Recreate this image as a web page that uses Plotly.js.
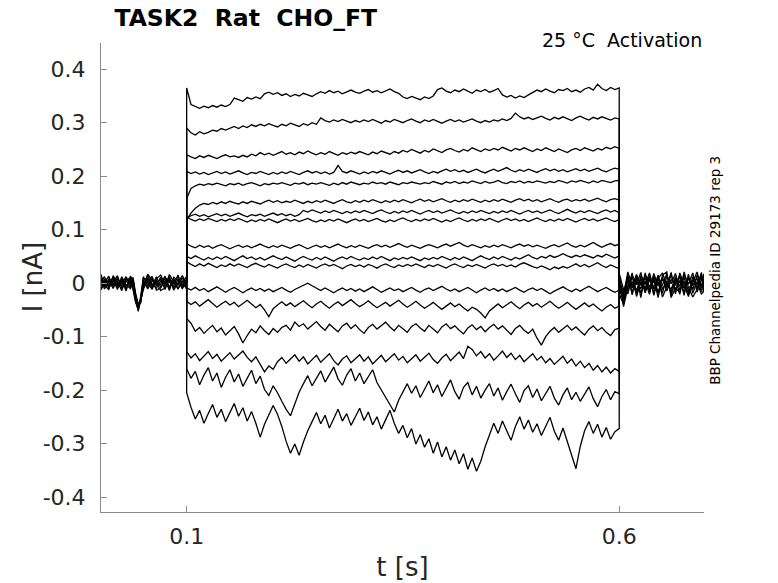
<!DOCTYPE html>
<html>
<head>
<meta charset="utf-8">
<script src="https://cdn.plot.ly/plotly-3.0.1.min.js"></script>
<style>
  html, body { margin: 0; padding: 0; background: #fff; }
  #chart { width: 778px; height: 583px; }
</style>
</head>
<body>
<div id="chart"></div>
<script>
// Step protocol timing [s]
const STEP_ON = 0.1;
const STEP_OFF = 0.6;
const holdingCurrent = 0;

// Sample times during the voltage step [s]
const stepTimes = [
  0.1, 0.105, 0.11, 0.115, 0.12, 0.125, 0.13, 0.135, 0.14, 0.145,
  0.15, 0.155, 0.16, 0.165, 0.17, 0.175, 0.18, 0.185, 0.19, 0.195,
  0.2, 0.205, 0.21, 0.215, 0.22, 0.225, 0.23, 0.235, 0.24, 0.245,
  0.25, 0.255, 0.26, 0.265, 0.27, 0.275, 0.28, 0.285, 0.29, 0.295,
  0.3, 0.305, 0.31, 0.315, 0.32, 0.325, 0.33, 0.335, 0.34, 0.345,
  0.35, 0.355, 0.36, 0.365, 0.37, 0.375, 0.38, 0.385, 0.39, 0.395,
  0.4, 0.405, 0.41, 0.415, 0.42, 0.425, 0.43, 0.435, 0.44, 0.445,
  0.45, 0.455, 0.46, 0.465, 0.47, 0.475, 0.48, 0.485, 0.49, 0.495,
  0.5, 0.505, 0.51, 0.515, 0.52, 0.525, 0.53, 0.535, 0.54, 0.545,
  0.55, 0.555, 0.56, 0.565, 0.57, 0.575, 0.58, 0.585, 0.59, 0.595,
  0.6
];

// Current during the step, one array per sweep [nA]
const sweep01 = [
  0.365, 0.334, 0.330, 0.327, 0.331, 0.328, 0.332, 0.329, 0.333, 0.330, 0.334,
  0.346, 0.343, 0.340, 0.347, 0.344, 0.348, 0.345, 0.354, 0.357, 0.353,
  0.356, 0.351, 0.354, 0.349, 0.353, 0.350, 0.355, 0.352, 0.349, 0.354,
  0.358, 0.355, 0.360, 0.356, 0.359, 0.354, 0.358, 0.361, 0.357, 0.355,
  0.359, 0.362, 0.357, 0.360, 0.356, 0.359, 0.363, 0.358, 0.355, 0.348,
  0.345, 0.349, 0.346, 0.343, 0.348, 0.345, 0.350, 0.362, 0.365, 0.359,
  0.356, 0.361, 0.358, 0.363, 0.359, 0.355, 0.361, 0.358, 0.362, 0.357,
  0.360, 0.364, 0.352, 0.348, 0.351, 0.346, 0.350, 0.347, 0.352, 0.356,
  0.361, 0.358, 0.363, 0.359, 0.356, 0.362, 0.360, 0.364, 0.358, 0.361,
  0.357, 0.363, 0.366, 0.361, 0.372, 0.364, 0.360, 0.366, 0.362, 0.365
];
const sweep02 = [
  0.290, 0.281, 0.277, 0.283, 0.279, 0.282, 0.286, 0.284, 0.289, 0.286, 0.290,
  0.293, 0.289, 0.294, 0.291, 0.296, 0.293, 0.297, 0.294, 0.298, 0.295,
  0.292, 0.297, 0.294, 0.299, 0.296, 0.293, 0.298, 0.295, 0.300, 0.297,
  0.309, 0.304, 0.301, 0.305, 0.302, 0.306, 0.303, 0.300, 0.304, 0.301,
  0.305, 0.302, 0.306, 0.303, 0.299, 0.304, 0.301, 0.306, 0.303, 0.300,
  0.304, 0.307, 0.303, 0.300, 0.305, 0.302, 0.306, 0.303, 0.299, 0.303,
  0.306, 0.302, 0.305, 0.301, 0.304, 0.307, 0.303, 0.300, 0.304, 0.301,
  0.305, 0.303, 0.307, 0.304, 0.308, 0.318, 0.311, 0.307, 0.310, 0.306,
  0.309, 0.312, 0.308, 0.305, 0.310, 0.307, 0.311, 0.308, 0.304, 0.309,
  0.312, 0.308, 0.305, 0.310, 0.307, 0.311, 0.308, 0.305, 0.309, 0.307
];
const sweep03 = [
  0.240, 0.236, 0.233, 0.238, 0.235, 0.239, 0.236, 0.233, 0.237, 0.240, 0.236,
  0.238, 0.235, 0.239, 0.236, 0.241, 0.238, 0.244, 0.240, 0.243, 0.239,
  0.242, 0.246, 0.241, 0.244, 0.240, 0.245, 0.242, 0.247, 0.243, 0.240,
  0.244, 0.241, 0.246, 0.243, 0.239, 0.244, 0.241, 0.245, 0.242, 0.246,
  0.243, 0.240, 0.245, 0.242, 0.247, 0.244, 0.241, 0.246, 0.243, 0.248,
  0.245, 0.250, 0.246, 0.243, 0.248, 0.245, 0.251, 0.247, 0.244, 0.249,
  0.252, 0.248, 0.245, 0.250, 0.247, 0.253, 0.249, 0.246, 0.251, 0.248,
  0.252, 0.249, 0.254, 0.250, 0.247, 0.252, 0.249, 0.253, 0.250, 0.246,
  0.251, 0.248, 0.253, 0.249, 0.246, 0.251, 0.248, 0.244, 0.249, 0.252,
  0.248, 0.253, 0.250, 0.247, 0.252, 0.249, 0.254, 0.251, 0.255, 0.252
];
const sweep04 = [
  0.209, 0.205, 0.208, 0.204, 0.207, 0.203, 0.206, 0.209, 0.205, 0.208, 0.204,
  0.207, 0.210, 0.206, 0.203, 0.207, 0.205, 0.209, 0.206, 0.203, 0.207,
  0.204, 0.208, 0.205, 0.209, 0.206, 0.203, 0.207, 0.210, 0.206, 0.209,
  0.205, 0.208, 0.204, 0.207, 0.220, 0.209, 0.206, 0.210, 0.207, 0.204,
  0.208, 0.205, 0.209, 0.206, 0.210, 0.207, 0.204, 0.208, 0.211, 0.207,
  0.210, 0.206, 0.209, 0.212, 0.208, 0.205, 0.209, 0.206, 0.210, 0.213,
  0.209, 0.212, 0.208, 0.211, 0.207, 0.210, 0.213, 0.209, 0.206, 0.210,
  0.213, 0.209, 0.212, 0.216, 0.211, 0.208, 0.212, 0.209, 0.213, 0.210,
  0.207, 0.211, 0.214, 0.210, 0.213, 0.209, 0.212, 0.208, 0.211, 0.214,
  0.210, 0.213, 0.209, 0.212, 0.215, 0.211, 0.208, 0.212, 0.215, 0.213
];
const sweep05 = [
  0.158, 0.177, 0.182, 0.185, 0.183, 0.186, 0.184, 0.187, 0.185, 0.182, 0.186,
  0.184, 0.187, 0.183, 0.186, 0.188, 0.185, 0.182, 0.186, 0.184, 0.187,
  0.185, 0.188, 0.186, 0.183, 0.187, 0.185, 0.188, 0.184, 0.187, 0.185,
  0.188, 0.186, 0.183, 0.187, 0.184, 0.188, 0.185, 0.189, 0.186, 0.184,
  0.187, 0.185, 0.189, 0.186, 0.188, 0.185, 0.189, 0.187, 0.184, 0.188,
  0.186, 0.189, 0.187, 0.185, 0.188, 0.186, 0.190, 0.187, 0.185, 0.189,
  0.187, 0.190, 0.186, 0.189, 0.187, 0.191, 0.188, 0.186, 0.190, 0.187,
  0.189, 0.192, 0.188, 0.186, 0.190, 0.188, 0.191, 0.187, 0.190, 0.188,
  0.191, 0.189, 0.187, 0.190, 0.188, 0.192, 0.189, 0.187, 0.191, 0.189,
  0.192, 0.189, 0.187, 0.191, 0.188, 0.192, 0.190, 0.188, 0.191, 0.192
];
const sweep06 = [
  0.118, 0.131, 0.140, 0.146, 0.149, 0.147, 0.151, 0.148, 0.152, 0.149, 0.153,
  0.150, 0.148, 0.152, 0.149, 0.153, 0.151, 0.148, 0.152, 0.155, 0.151,
  0.154, 0.150, 0.153, 0.151, 0.155, 0.152, 0.149, 0.153, 0.150, 0.154,
  0.151, 0.155, 0.152, 0.149, 0.153, 0.156, 0.152, 0.150, 0.154, 0.151,
  0.155, 0.152, 0.156, 0.153, 0.150, 0.154, 0.151, 0.155, 0.152, 0.156,
  0.153, 0.150, 0.154, 0.157, 0.153, 0.156, 0.152, 0.155, 0.158, 0.154,
  0.151, 0.155, 0.152, 0.156, 0.153, 0.157, 0.154, 0.151, 0.155, 0.152,
  0.156, 0.153, 0.157, 0.154, 0.151, 0.155, 0.158, 0.154, 0.157, 0.153,
  0.156, 0.152, 0.155, 0.158, 0.154, 0.151, 0.155, 0.157, 0.153, 0.156,
  0.154, 0.157, 0.153, 0.156, 0.159, 0.155, 0.152, 0.156, 0.158, 0.155
];
const sweep07 = [
  0.122, 0.126, 0.129, 0.125, 0.128, 0.124, 0.127, 0.130, 0.126, 0.129, 0.125,
  0.128, 0.131, 0.127, 0.124, 0.128, 0.126, 0.129, 0.125, 0.128, 0.131,
  0.127, 0.130, 0.126, 0.129, 0.125, 0.128, 0.136, 0.133, 0.137, 0.134,
  0.131, 0.135, 0.132, 0.136, 0.133, 0.130, 0.134, 0.131, 0.135, 0.132,
  0.136, 0.133, 0.130, 0.134, 0.137, 0.133, 0.130, 0.134, 0.131, 0.135,
  0.132, 0.136, 0.133, 0.129, 0.133, 0.136, 0.132, 0.135, 0.131, 0.134,
  0.137, 0.133, 0.130, 0.134, 0.131, 0.135, 0.132, 0.136, 0.133, 0.130,
  0.134, 0.131, 0.135, 0.132, 0.136, 0.133, 0.129, 0.133, 0.136, 0.132,
  0.135, 0.131, 0.134, 0.137, 0.133, 0.130, 0.134, 0.138, 0.134, 0.131,
  0.135, 0.132, 0.136, 0.133, 0.130, 0.134, 0.137, 0.133, 0.136, 0.131
];
const sweep08 = [
  0.124, 0.119, 0.116, 0.120, 0.117, 0.121, 0.118, 0.115, 0.119, 0.116, 0.120,
  0.117, 0.121, 0.118, 0.114, 0.118, 0.115, 0.119, 0.116, 0.120, 0.117,
  0.113, 0.117, 0.120, 0.116, 0.119, 0.115, 0.118, 0.121, 0.117, 0.114,
  0.118, 0.115, 0.119, 0.116, 0.120, 0.117, 0.113, 0.117, 0.120, 0.116,
  0.119, 0.115, 0.118, 0.121, 0.117, 0.114, 0.118, 0.115, 0.119, 0.122,
  0.118, 0.115, 0.119, 0.116, 0.120, 0.117, 0.121, 0.118, 0.114, 0.118,
  0.115, 0.119, 0.122, 0.118, 0.115, 0.119, 0.116, 0.120, 0.117, 0.121,
  0.118, 0.114, 0.118, 0.121, 0.117, 0.120, 0.116, 0.119, 0.115, 0.119,
  0.122, 0.118, 0.115, 0.119, 0.116, 0.120, 0.117, 0.121, 0.118, 0.114,
  0.118, 0.121, 0.117, 0.120, 0.116, 0.119, 0.122, 0.118, 0.115, 0.119
];
const sweep09 = [
  0.074, 0.069, 0.066, 0.071, 0.067, 0.070, 0.065, 0.069, 0.072, 0.068, 0.064,
  0.068, 0.071, 0.067, 0.070, 0.066, 0.069, 0.073, 0.069, 0.066, 0.070,
  0.067, 0.071, 0.068, 0.065, 0.069, 0.072, 0.068, 0.064, 0.068, 0.071,
  0.067, 0.070, 0.066, 0.069, 0.073, 0.069, 0.066, 0.070, 0.067, 0.071,
  0.068, 0.065, 0.069, 0.072, 0.068, 0.071, 0.067, 0.070, 0.074, 0.070,
  0.067, 0.071, 0.068, 0.065, 0.069, 0.072, 0.069, 0.066, 0.070, 0.073,
  0.069, 0.072, 0.076, 0.071, 0.068, 0.072, 0.069, 0.066, 0.070, 0.067,
  0.071, 0.068, 0.072, 0.069, 0.066, 0.070, 0.073, 0.069, 0.072, 0.068,
  0.071, 0.068, 0.065, 0.069, 0.072, 0.068, 0.071, 0.075, 0.070, 0.067,
  0.071, 0.068, 0.072, 0.076, 0.071, 0.067, 0.071, 0.074, 0.070, 0.073
];
const sweep10 = [
  0.050, 0.046, 0.051, 0.047, 0.043, 0.048, 0.044, 0.049, 0.045, 0.050, 0.046,
  0.042, 0.047, 0.051, 0.046, 0.049, 0.044, 0.048, 0.043, 0.047, 0.051,
  0.047, 0.044, 0.049, 0.045, 0.041, 0.046, 0.050, 0.046, 0.043, 0.048,
  0.044, 0.049, 0.045, 0.041, 0.046, 0.049, 0.045, 0.050, 0.046, 0.043,
  0.047, 0.044, 0.049, 0.045, 0.050, 0.046, 0.042, 0.047, 0.044, 0.048,
  0.045, 0.049, 0.046, 0.042, 0.047, 0.044, 0.048, 0.045, 0.050, 0.046,
  0.043, 0.048, 0.044, 0.049, 0.046, 0.042, 0.047, 0.051, 0.047, 0.044,
  0.049, 0.045, 0.050, 0.047, 0.043, 0.048, 0.045, 0.049, 0.053, 0.048,
  0.045, 0.050, 0.047, 0.052, 0.048, 0.051, 0.055, 0.051, 0.048, 0.052,
  0.049, 0.053, 0.050, 0.047, 0.052, 0.049, 0.054, 0.050, 0.047, 0.051
];
const sweep11 = [
  0.040, 0.035, 0.031, 0.036, 0.032, 0.037, 0.033, 0.029, 0.034, 0.031, 0.036,
  0.032, 0.036, 0.033, 0.029, 0.034, 0.037, 0.033, 0.030, 0.035, 0.031,
  0.028, 0.033, 0.036, 0.032, 0.029, 0.034, 0.030, 0.035, 0.032, 0.028,
  0.033, 0.036, 0.032, 0.035, 0.031, 0.027, 0.032, 0.035, 0.031, 0.034,
  0.030, 0.035, 0.032, 0.028, 0.033, 0.036, 0.032, 0.029, 0.034, 0.031,
  0.035, 0.032, 0.036, 0.033, 0.029, 0.034, 0.031, 0.035, 0.032, 0.028,
  0.033, 0.036, 0.032, 0.029, 0.034, 0.031, 0.035, 0.032, 0.028, 0.033,
  0.036, 0.032, 0.035, 0.031, 0.034, 0.030, 0.035, 0.038, 0.034, 0.031,
  0.028, 0.032, 0.029, 0.025, 0.030, 0.027, 0.031, 0.028, 0.032, 0.036,
  0.031, 0.035, 0.030, 0.034, 0.038, 0.033, 0.029, 0.034, 0.030, 0.027
];
const sweep12 = [
  -0.009, -0.013, -0.008, -0.014, -0.010, -0.016, -0.011, -0.007, -0.012, -0.017, -0.012,
  -0.008, -0.013, -0.018, -0.013, -0.009, -0.014, -0.010, -0.015, -0.011, -0.016,
  -0.012, -0.008, -0.013, -0.017, -0.012, -0.008, -0.004, 0.000, -0.005, -0.010,
  -0.014, -0.009, -0.013, -0.018, -0.013, -0.009, -0.014, -0.010, -0.015, -0.011,
  -0.016, -0.012, -0.007, -0.012, -0.017, -0.013, -0.009, -0.014, -0.011, -0.016,
  -0.012, -0.008, -0.013, -0.017, -0.012, -0.009, -0.014, -0.010, -0.006, -0.011,
  -0.015, -0.011, -0.016, -0.012, -0.008, -0.013, -0.018, -0.013, -0.009, -0.014,
  -0.010, -0.015, -0.011, -0.016, -0.012, -0.008, -0.013, -0.017, -0.012, -0.009,
  -0.014, -0.010, -0.015, -0.020, -0.015, -0.011, -0.007, -0.012, -0.016, -0.011,
  -0.015, -0.010, -0.006, -0.011, -0.016, -0.012, -0.008, -0.013, -0.017, -0.013
];
const sweep13 = [
  -0.034, -0.040, -0.035, -0.043, -0.037, -0.031, -0.038, -0.045, -0.039, -0.034, -0.041,
  -0.036, -0.044, -0.038, -0.032, -0.039, -0.046, -0.040, -0.050, -0.063, -0.048,
  -0.041, -0.035, -0.042, -0.037, -0.044, -0.039, -0.033, -0.040, -0.046, -0.039,
  -0.034, -0.041, -0.047, -0.040, -0.035, -0.042, -0.037, -0.031, -0.038, -0.044,
  -0.039, -0.033, -0.040, -0.046, -0.041, -0.036, -0.043, -0.038, -0.032, -0.039,
  -0.045, -0.040, -0.034, -0.041, -0.047, -0.042, -0.036, -0.043, -0.049, -0.043,
  -0.037, -0.044, -0.039, -0.046, -0.052, -0.045, -0.049, -0.056, -0.065, -0.052,
  -0.045, -0.039, -0.046, -0.041, -0.035, -0.042, -0.048, -0.041, -0.036, -0.043,
  -0.038, -0.045, -0.040, -0.034, -0.041, -0.047, -0.042, -0.036, -0.043, -0.049,
  -0.043, -0.037, -0.044, -0.039, -0.046, -0.052, -0.045, -0.040, -0.047, -0.043
];
const sweep14 = [
  -0.066, -0.075, -0.090, -0.083, -0.094, -0.086, -0.079, -0.091, -0.084, -0.097, -0.088,
  -0.081, -0.095, -0.112, -0.098, -0.086, -0.093, -0.080, -0.089, -0.096, -0.085,
  -0.092, -0.083, -0.079, -0.088, -0.073, -0.081, -0.076, -0.086, -0.079, -0.072,
  -0.081, -0.088, -0.077, -0.084, -0.091, -0.080, -0.075, -0.085, -0.078, -0.087,
  -0.094, -0.083, -0.077, -0.086, -0.080, -0.073, -0.082, -0.089, -0.079, -0.085,
  -0.092, -0.081, -0.076, -0.084, -0.090, -0.079, -0.086, -0.093, -0.082, -0.076,
  -0.085, -0.080, -0.088, -0.095, -0.084, -0.078, -0.087, -0.081, -0.091, -0.083,
  -0.077, -0.086, -0.080, -0.089, -0.096, -0.085, -0.079, -0.088, -0.094, -0.086,
  -0.103, -0.116, -0.100, -0.090, -0.083, -0.092, -0.085, -0.079, -0.088, -0.082,
  -0.090, -0.097, -0.086, -0.080, -0.089, -0.083, -0.092, -0.098, -0.087, -0.084
];
const sweep15 = [
  -0.128, -0.140, -0.132, -0.145, -0.136, -0.128, -0.141, -0.133, -0.146, -0.137, -0.130,
  -0.142, -0.135, -0.127, -0.139, -0.147, -0.138, -0.152, -0.166, -0.155, -0.161,
  -0.147, -0.139, -0.150, -0.141, -0.134, -0.146, -0.138, -0.151, -0.143, -0.135,
  -0.148, -0.140, -0.132, -0.145, -0.153, -0.142, -0.136, -0.149, -0.141, -0.134,
  -0.146, -0.138, -0.151, -0.143, -0.135, -0.147, -0.140, -0.132, -0.144, -0.137,
  -0.149, -0.141, -0.134, -0.146, -0.139, -0.131, -0.143, -0.150, -0.140, -0.133,
  -0.145, -0.137, -0.129, -0.141, -0.118, -0.124, -0.136, -0.128, -0.140, -0.132,
  -0.144, -0.136, -0.127, -0.139, -0.131, -0.143, -0.135, -0.147, -0.139, -0.132,
  -0.144, -0.137, -0.149, -0.141, -0.152, -0.144, -0.137, -0.150, -0.142, -0.155,
  -0.146, -0.158, -0.150, -0.163, -0.154, -0.166, -0.157, -0.168, -0.160, -0.165
];
const sweep16 = [
  -0.160, -0.178, -0.165, -0.190, -0.172, -0.158, -0.183, -0.168, -0.195, -0.176, -0.162,
  -0.185, -0.170, -0.193, -0.177, -0.163, -0.188, -0.174, -0.199, -0.210, -0.192,
  -0.205, -0.221, -0.236, -0.248, -0.226, -0.204, -0.188, -0.173, -0.192, -0.178,
  -0.164, -0.185, -0.170, -0.157, -0.179, -0.191, -0.172, -0.160, -0.183, -0.168,
  -0.188, -0.175, -0.162, -0.186, -0.200, -0.214, -0.228, -0.241, -0.219, -0.203,
  -0.188, -0.206, -0.192, -0.214, -0.198, -0.183, -0.205, -0.190, -0.212, -0.196,
  -0.181, -0.203, -0.217, -0.195, -0.186, -0.209, -0.193, -0.215, -0.200, -0.188,
  -0.211, -0.196, -0.219, -0.203, -0.189, -0.207, -0.223, -0.201, -0.192, -0.214,
  -0.198, -0.220, -0.206, -0.193, -0.215, -0.228, -0.209, -0.196, -0.218, -0.204,
  -0.221, -0.207, -0.194, -0.216, -0.231, -0.212, -0.199, -0.218, -0.203, -0.207
];
const sweep17 = [
  -0.205, -0.232, -0.254, -0.238, -0.262, -0.244, -0.227, -0.251, -0.236, -0.259, -0.241,
  -0.225, -0.249, -0.233, -0.258, -0.240, -0.262, -0.288, -0.264, -0.246, -0.229,
  -0.245, -0.268, -0.296, -0.318, -0.301, -0.322, -0.297, -0.276, -0.259, -0.242,
  -0.263, -0.247, -0.271, -0.252, -0.236, -0.258, -0.244, -0.266, -0.249, -0.234,
  -0.257, -0.241, -0.265, -0.250, -0.273, -0.256, -0.238, -0.262, -0.281, -0.266,
  -0.289, -0.272, -0.301, -0.283, -0.307, -0.291, -0.318, -0.297, -0.325, -0.306,
  -0.331, -0.312, -0.338, -0.319, -0.348, -0.327, -0.352, -0.333, -0.306, -0.284,
  -0.262, -0.281, -0.258, -0.276, -0.294, -0.268, -0.250, -0.273, -0.256, -0.279,
  -0.263, -0.285, -0.268, -0.251, -0.277, -0.294, -0.271, -0.296, -0.322, -0.347,
  -0.305, -0.276, -0.259, -0.281, -0.264, -0.288, -0.270, -0.292, -0.278, -0.272
];

const sweeps = [
  sweep01, sweep02, sweep03, sweep04, sweep05, sweep06, sweep07, sweep08, sweep09,
  sweep10, sweep11, sweep12, sweep13, sweep14, sweep15, sweep16, sweep17
];

// Holding current before the step (all sweeps overlaid) [s], [nA]
const preTimes = [
  0.001, 0.005, 0.01, 0.015, 0.02, 0.025, 0.03, 0.035, 0.038, 0.041, 0.044, 0.047,
  0.05, 0.055, 0.06, 0.065, 0.07, 0.075, 0.08, 0.085, 0.09, 0.095, 0.1
];
const preBaselines = [
  [0.004, -0.006, 0.008, -0.003, 0.010, -0.005, 0.006, -0.008, 0.002, -0.028, -0.046, -0.030,
   0.003, -0.007, 0.009, -0.004, 0.011, -0.006, 0.005, -0.009, 0.007, -0.003, 0.006],
  [-0.005, 0.007, -0.009, 0.005, -0.004, 0.009, -0.007, 0.004, -0.006, -0.034, -0.050, -0.026,
   -0.008, 0.006, -0.005, 0.012, -0.008, 0.004, -0.010, 0.008, -0.004, 0.010, -0.007],
  [0.010, -0.002, 0.005, -0.010, 0.007, -0.001, 0.012, -0.004, 0.008, -0.022, -0.041, -0.037,
   0.006, -0.011, 0.004, -0.002, 0.007, -0.012, 0.009, -0.001, 0.013, -0.006, 0.002],
  [-0.010, 0.003, -0.004, 0.011, -0.009, 0.004, -0.011, 0.009, -0.003, -0.030, -0.053, -0.031,
   -0.012, 0.010, -0.009, 0.005, -0.003, 0.013, -0.007, 0.003, -0.011, 0.005, -0.012],
  [0.001, 0.012, -0.007, 0.002, 0.014, -0.010, 0.003, 0.011, -0.009, -0.025, -0.044, -0.028,
   0.010, 0.001, -0.012, 0.008, 0.015, -0.002, 0.012, -0.013, 0.001, 0.014, -0.002],
  [0.008, -0.011, 0.002, 0.007, -0.012, 0.012, -0.003, -0.010, 0.011, -0.019, -0.039, -0.033,
   -0.003, 0.014, -0.002, -0.009, 0.003, 0.008, -0.014, 0.011, 0.005, -0.011, 0.009],
  [-0.013, 0.001, 0.013, -0.006, 0.003, -0.014, 0.009, 0.001, -0.012, -0.036, -0.048, -0.024,
   0.012, -0.004, 0.013, -0.013, -0.009, 0.010, 0.002, -0.006, 0.015, -0.008, -0.004],
  [0.016, -0.004, -0.012, 0.014, -0.001, 0.006, -0.015, 0.013, 0.004, -0.027, -0.043, -0.034,
   -0.006, 0.017, 0.006, 0.002, -0.014, -0.009, 0.016, 0.004, -0.010, 0.002, 0.012]
];

// Holding current after the step [s], [nA]
const postTimes = [
  0.6, 0.605, 0.61, 0.615, 0.62, 0.625, 0.63, 0.635, 0.64, 0.645, 0.65,
  0.655, 0.66, 0.665, 0.67, 0.675, 0.68, 0.685, 0.69, 0.695, 0.698
];
const postBaselines = [
  [0.004, -0.018, 0.012, -0.009, 0.016, -0.004, 0.010, -0.013, 0.018, -0.006, 0.011,
   -0.015, 0.007, -0.003, 0.014, -0.010, 0.009, -0.012, 0.015, -0.005, 0.008],
  [-0.010, -0.035, -0.004, 0.011, -0.014, 0.009, -0.018, 0.006, -0.008, 0.015, -0.012,
   0.004, -0.017, 0.012, -0.006, 0.010, -0.015, 0.006, -0.009, 0.013, -0.011],
  [0.012, -0.026, -0.012, 0.003, -0.020, 0.014, -0.002, 0.019, -0.011, 0.002, -0.019,
   0.013, -0.001, 0.018, -0.013, 0.003, -0.020, 0.012, -0.003, 0.017, -0.004],
  [-0.020, -0.040, 0.007, -0.016, 0.005, -0.011, 0.016, -0.007, 0.004, -0.016, 0.008,
   -0.009, 0.016, -0.014, 0.005, -0.018, 0.011, -0.004, 0.009, -0.016, 0.003],
  [0.018, -0.012, -0.020, 0.014, -0.003, 0.020, -0.015, 0.011, -0.019, 0.009, 0.019,
   -0.004, -0.011, 0.008, -0.021, 0.015, -0.002, 0.019, -0.017, 0.006, 0.014],
  [-0.002, -0.030, 0.016, -0.022, 0.010, -0.019, 0.004, -0.021, 0.013, -0.020, -0.003,
   0.017, -0.022, 0.003, 0.011, -0.023, 0.017, -0.019, 0.003, -0.021, -0.013],
  [0.009, -0.044, -0.008, 0.019, -0.025, 0.003, -0.010, 0.014, -0.023, 0.011, -0.026,
   -0.007, 0.020, -0.020, 0.019, -0.005, -0.025, 0.002, 0.021, -0.010, 0.018],
  [-0.015, -0.022, 0.021, -0.006, 0.015, -0.027, 0.019, -0.016, 0.008, -0.027, 0.015,
   0.021, -0.027, -0.009, -0.017, 0.021, -0.008, -0.026, -0.012, 0.020, -0.018]
];

const xTickVals = [0.1, 0.6];
const xTickText = ["0.1", "0.6"];
const yTickVals = [-0.4, -0.3, -0.2, -0.1, 0, 0.1, 0.2, 0.3, 0.4];
const yTickText = ["-0.4", "-0.3", "-0.2", "-0.1", "0", "0.1", "0.2", "0.3", "0.4"];

const FONT = "DejaVu Sans, Verdana, sans-serif";
const TEXT_COLOR = "#262626";
const AXIS_COLOR = "#8a8a8a";
const traceLine = { color: "#000000", width: 1.3 };

const lineTrace = (x, y) => ({
  type: "scatter",
  mode: "lines",
  x: x,
  y: y,
  line: traceLine,
  hoverinfo: "skip",
  showlegend: false,
});

const data = [];
preBaselines.forEach((vals) => data.push(lineTrace(preTimes, vals)));
postBaselines.forEach((vals) => data.push(lineTrace(postTimes, vals)));
// Each sweep jumps from the holding level at onset and returns at offset.
sweeps.forEach((vals) => {
  const x = [STEP_ON].concat(stepTimes, [STEP_OFF]);
  const y = [holdingCurrent].concat(vals, [holdingCurrent]);
  data.push(lineTrace(x, y));
});

const axisCommon = {
  showgrid: false,
  zeroline: false,
  showline: true,
  linecolor: AXIS_COLOR,
  linewidth: 1,
  ticks: "inside",
  ticklen: 6,
  tickcolor: AXIS_COLOR,
  tickmode: "array",
  tickfont: { family: FONT, size: 22, color: TEXT_COLOR },
  mirror: false,
};

const layout = {
  width: 778,
  height: 583,
  margin: { l: 101, r: 74, t: 43, b: 71, pad: 0 },
  paper_bgcolor: "#ffffff",
  plot_bgcolor: "#ffffff",
  font: { family: FONT, color: TEXT_COLOR },
  showlegend: false,
  title: {
    text: "<b>TASK2\u00a0\u00a0Rat\u00a0\u00a0CHO_FT</b>",
    font: { family: FONT, size: 23.5, color: "#000000" },
    xref: "paper",
    x: 0.24,
    xanchor: "center",
    yref: "container",
    y: 0.969,
    yanchor: "middle",
  },
  xaxis: Object.assign({}, axisCommon, {
    range: [0.001, 0.698],
    tickvals: xTickVals,
    ticktext: xTickText,
    ticklabelstandoff: 5,
    title: { text: "t [s]", font: { family: FONT, size: 26, color: TEXT_COLOR }, standoff: 9 },
  }),
  yaxis: Object.assign({}, axisCommon, {
    range: [-0.428, 0.449],
    tickvals: yTickVals,
    ticktext: yTickText,
    ticklabelstandoff: 10,
  }),
  annotations: [
    {
      // y-axis title, placed by hand to sit close to the tick labels
      text: "I [nA]",
      xref: "paper", yref: "paper",
      x: -0.113, y: 0.5,
      xanchor: "center", yanchor: "middle",
      textangle: -90,
      showarrow: false,
      font: { family: FONT, size: 26, color: TEXT_COLOR },
    },
    {
      text: "25 °C\u00a0\u00a0Activation",
      xref: "paper", yref: "paper",
      x: 1.0, y: 1.006,
      xanchor: "right", yanchor: "middle",
      showarrow: false,
      font: { family: FONT, size: 19, color: "#000000" },
    },
    {
      text: "BBP Channelpedia ID 29173 rep 3",
      xref: "paper", yref: "paper",
      x: 1.018, y: 0.516,
      xanchor: "center", yanchor: "middle",
      textangle: -90,
      showarrow: false,
      font: { family: FONT, size: 13.5, color: "#000000" },
    },
  ],
};

Plotly.newPlot("chart", data, layout, { staticPlot: true, displayModeBar: false });
</script>
</body>
</html>
